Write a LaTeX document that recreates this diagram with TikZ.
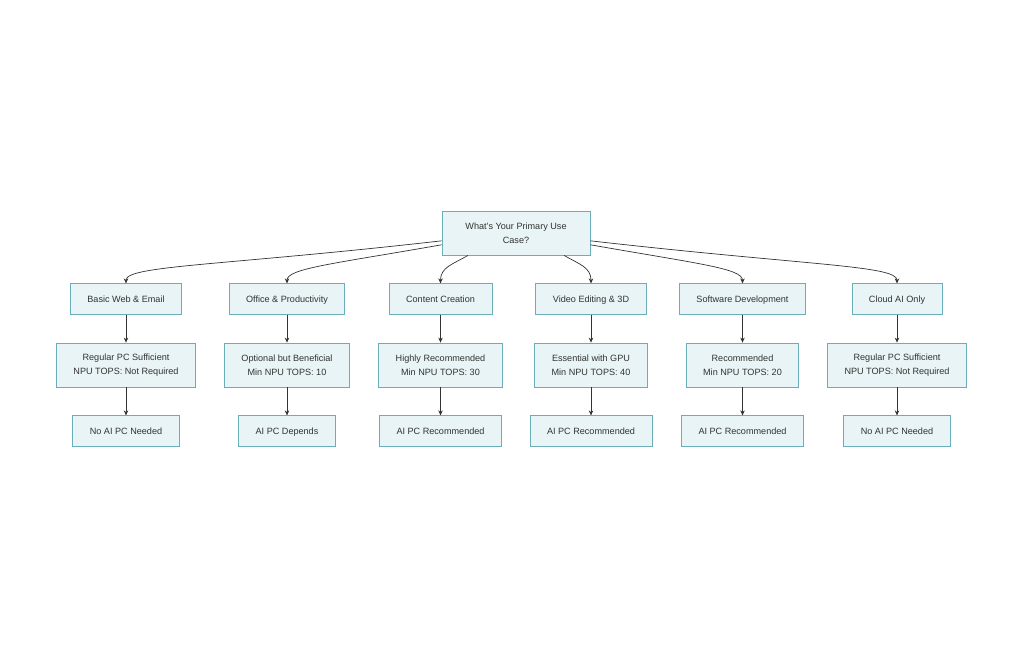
\documentclass[tikz,border=0pt]{standalone}
\usepackage{fontspec}
\setmainfont{Liberation Sans}
\usepackage{xcolor}
\usetikzlibrary{positioning, arrows.meta}
\definecolor{boxfill}{HTML}{E8F4F5}
\definecolor{boxline}{HTML}{6AAFB7}
\definecolor{inkgray}{HTML}{333333}

\begin{document}
\begin{tikzpicture}[x=1pt, y=1pt, node distance=66pt,
		box/.style={draw=boxline, fill=boxfill, text=inkgray, line width=0.8pt, align=center, font=\fontsize{9.1}{14}\selectfont, inner xsep=17pt, inner ysep=10.5pt, minimum height=30pt},
		onebox/.style={box, text height=7.9pt, text depth=1.5pt},
		twobox/.style={box, inner ysep=4pt, minimum height=44pt},
		edge/.style={->, >={Stealth[length=5pt, width=4.5pt]}, draw=inkgray, line width=0.7pt}]
		\useasboundingbox (0,0) rectangle (1024,-658);
		
		% Define the nodes
		\node (usecase) [twobox, minimum width=148pt] at (516,-233) {What's Your Primary Use\\Case?};
		
		\node (web) [onebox] at (126,-299) {Basic Web \& Email};
		\node (office) [onebox] at (287,-299) {Office \& Productivity};
		\node (content) [onebox] at (440.5,-299) {Content Creation};
		\node (video) [onebox] at (591,-299) {Video Editing \& 3D};
		\node (software) [onebox] at (742.5,-299) {Software Development};
		\node (cloud) [onebox] at (897,-299) {Cloud AI Only};
		
		\node (webneed) [below of=web, twobox] {Regular PC Sufficient\\NPU TOPS: Not Required};
		\node (officeneed) [below of=office, twobox] {Optional but Beneficial\\Min NPU TOPS: 10};
		\node (contentneed) [below of=content, twobox] {Highly Recommended\\Min NPU TOPS: 30};
		\node (videoneed) [below of=video, twobox] {Essential with GPU\\Min NPU TOPS: 40};
		\node (softwareneed) [below of=software, twobox] {Recommended\\Min NPU TOPS: 20};
		\node (cloudneed) [below of=cloud, twobox] {Regular PC Sufficient\\NPU TOPS: Not Required};
		
		\node (webpc) [below of=webneed, onebox] {No AI PC Needed};
		\node (officepc) [below of=officeneed, onebox] {AI PC Depends};
		\node (contentpc) [below of=contentneed, onebox] {AI PC Recommended};
		\node (videopc) [below of=videoneed, onebox] {AI PC Recommended};
		\node (softwarepc) [below of=softwareneed, onebox] {AI PC Recommended};
		\node (cloudpc) [below of=cloudneed, onebox] {No AI PC Needed};
		
		% Connect the nodes with arrows
		\draw[edge] (usecase.186) .. controls +(186.5:220) and +(0,18) .. (web.north);
		\draw[edge] (usecase.189) .. controls +(190:110) and +(0,15) .. (office.north);
		\draw[edge] (usecase.205) .. controls +(210:18) and +(0,16) .. (content.north);
		\draw[edge] (usecase.335) .. controls +(330:18) and +(0,16) .. (video.north);
		\draw[edge] (usecase.351) .. controls +(350:110) and +(0,15) .. (software.north);
		\draw[edge] (usecase.354) .. controls +(353.5:220) and +(0,18) .. (cloud.north);
		
		\draw[edge] (web) -- (webneed);
		\draw[edge] (office) -- (officeneed);
		\draw[edge] (content) -- (contentneed);
		\draw[edge] (video) -- (videoneed);
		\draw[edge] (software) -- (softwareneed);
		\draw[edge] (cloud) -- (cloudneed);
		
		\draw[edge] (webneed) -- (webpc);
		\draw[edge] (officeneed) -- (officepc);
		\draw[edge] (contentneed) -- (contentpc);
		\draw[edge] (videoneed) -- (videopc);
		\draw[edge] (softwareneed) -- (softwarepc);
		\draw[edge] (cloudneed) -- (cloudpc);
	\end{tikzpicture}
\end{document}
